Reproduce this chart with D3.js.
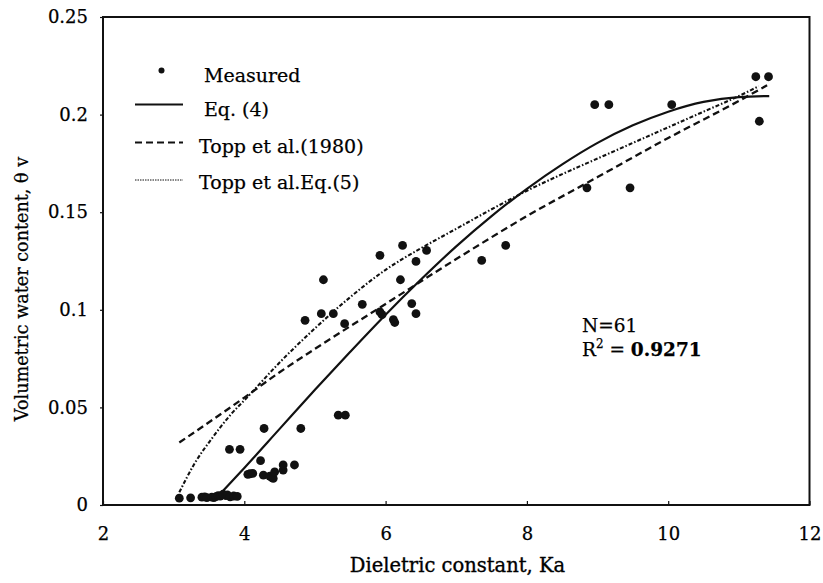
<!DOCTYPE html>
<html><head><meta charset="utf-8">
<script src="https://cdn.jsdelivr.net/npm/d3@7"></script>
<style>
html,body{margin:0;padding:0;background:#fff;}
svg text{font-family:"DejaVu Serif","Liberation Serif",serif;fill:#000;}
</style></head>
<body><svg id="c" width="823" height="583"></svg>
<script>
// Measured points [Ka, theta_v]
const measuredKa = [3.08,3.24,3.40,3.44,3.47,3.54,3.57,3.60,3.63,3.66,3.70,3.74,3.76,3.80,3.85,3.90,
  3.79,3.94,4.28,4.80,4.23,4.05,4.08,4.12,4.27,4.36,4.39,4.41,4.43,4.55,4.55,4.71,5.33,5.43,
  4.86,5.09,5.26,5.12,5.42,5.67,5.92,5.92,5.95,6.11,6.13,6.21,6.24,6.43,6.58,6.37,6.43,
  7.36,7.70,8.85,9.46,8.96,9.16,10.05,11.29,11.24,11.42];
const measuredTheta = [0.0035,0.0037,0.0040,0.0042,0.0038,0.0040,0.0038,0.0043,0.0048,0.0045,0.0055,0.0048,0.0052,0.0042,0.0046,0.0044,
  0.0285,0.0285,0.0392,0.0392,0.0227,0.0157,0.0160,0.0162,0.0153,0.0148,0.0140,0.0136,0.0170,0.0179,0.0205,0.0205,0.046,0.046,
  0.0946,0.098,0.098,0.1154,0.0929,0.1028,0.1279,0.0989,0.0975,0.0950,0.0935,0.1154,0.1330,0.1248,0.1304,0.1032,0.0980,
  0.1253,0.1330,0.1625,0.1625,0.2051,0.2051,0.2051,0.1966,0.2194,0.2194];
// Eq.(4) curve
const eq4Ka    = [3.68,4.0,4.5,5.0,5.5,6.0,6.5,7.0,7.5,8.0,8.5,9.0,9.5,10.0,10.5,11.0,11.43];
const eq4Theta = [0.0065,0.019,0.039,0.059,0.0785,0.0975,0.1155,0.1325,0.148,0.162,0.1745,0.1855,0.1945,0.2015,0.2065,0.209,0.2095];
// Topp et al.(1980)
const toppKa    = [3.08,4.0,4.5,5.0,6.0,7.0,8.0,9.0,10.0,11.0,11.4];
const toppTheta = [0.032,0.055,0.068,0.080,0.103,0.126,0.148,0.168,0.188,0.207,0.215];
// Topp et al. Eq.(5)
const topp5Ka    = [3.08,3.3,3.55,3.8,4.05,4.5,5.0,5.5,6.0,6.5,7.0,7.5,8.0,8.5,9.0,9.5,10.0,10.5,11.0,11.28];
const topp5Theta = [0.0065,0.0215,0.0345,0.046,0.0555,0.073,0.0905,0.1065,0.1205,0.1315,0.1415,0.1515,0.161,0.1695,0.1775,0.1855,0.1935,0.2015,0.2095,0.2145];
const xTicks = [2,4,6,8,10,12];
const yTicks = [0,0.05,0.1,0.15,0.2,0.25];
const yTickLabels = ["0","0.05","0.1","0.15","0.2","0.25"];
const legendLabels = ["Measured","Eq. (4)","Topp et al.(1980)","Topp et al.Eq.(5)"];

const svg = d3.select("#c");
const x = d3.scaleLinear().domain([2,12]).range([103,809.5]);
const y = d3.scaleLinear().domain([0,0.25]).range([505,17]);
const FS = 18, LFS = 19;

// axes
const gx = svg.append("g").attr("transform","translate(0,505)")
  .call(d3.axisBottom(x).tickValues(xTicks).tickSizeInner(-4).tickSizeOuter(0).tickPadding(22));
const gy = svg.append("g").attr("transform","translate(103,0)")
  .call(d3.axisLeft(y).tickValues(yTicks).tickFormat((d,i)=>yTickLabels[i]).tickSizeInner(3).tickSizeOuter(0).tickPadding(12));
[gx,gy].forEach(g=>{
  g.select(".domain").remove();
  g.selectAll("line").attr("stroke","#111").attr("stroke-width",1.2);
  g.selectAll("text").attr("font-size",FS).attr("fill","#000").attr("font-family","DejaVu Serif")
    .attr("stroke","#000").attr("stroke-width",0.25);
});
// frame
svg.append("rect").attr("x",x(2)).attr("y",y(0.25)).attr("width",x(12)-x(2)).attr("height",y(0)-y(0.25))
  .attr("fill","none").attr("stroke","#111").attr("stroke-width",2);

const line = d3.line().x(d=>x(d[0])).y(d=>y(d[1])).curve(d3.curveMonotoneX);
svg.append("path").datum(d3.zip(eq4Ka,eq4Theta)).attr("d",line)
  .attr("fill","none").attr("stroke","#111").attr("stroke-width",2.2);
svg.append("path").datum(d3.zip(toppKa,toppTheta)).attr("d",line)
  .attr("fill","none").attr("stroke","#111").attr("stroke-width",2.3).attr("stroke-dasharray","7,4");
svg.append("path").datum(d3.zip(topp5Ka,topp5Theta)).attr("d",line)
  .attr("fill","none").attr("stroke","#111").attr("stroke-width",2.1).attr("stroke-dasharray","4,2,1.5,2");

svg.append("g").selectAll("circle").data(d3.zip(measuredKa,measuredTheta)).join("circle")
  .attr("cx",d=>x(d[0])).attr("cy",d=>y(d[1])).attr("r",4.4).attr("fill","#111");

// legend
const lg = svg.append("g");
const rowY = [75,109,146,182];
lg.append("circle").attr("cx",161.5).attr("cy",70.5).attr("r",3).attr("fill","#111");
lg.append("line").attr("x1",135).attr("x2",183).attr("y1",104.5).attr("y2",104.5).attr("stroke","#111").attr("stroke-width",2);
lg.append("line").attr("x1",135).attr("x2",183).attr("y1",142.5).attr("y2",142.5).attr("stroke","#111").attr("stroke-width",2).attr("stroke-dasharray","7,4");
lg.append("line").attr("x1",135).attr("x2",183).attr("y1",180).attr("y2",180).attr("stroke","#111").attr("stroke-width",1).attr("stroke-dasharray","1.5,1");
const lgX = [204,204,199,199];
legendLabels.forEach((t,i)=>{
  lg.append("text").attr("x",lgX[i]).attr("y",rowY[i]).attr("dy","0.35em").attr("font-size",LFS)
    .attr("stroke","#000").attr("stroke-width",0.25).text(t);
});

// annotation
svg.append("text").attr("x",582).attr("y",326).attr("dy","0.35em").attr("font-size",18.5)
  .attr("stroke","#000").attr("stroke-width",0.25).text("N=61");
const r2 = svg.append("text").attr("x",582).attr("y",350).attr("dy","0.35em").attr("font-size",18.5)
  .attr("stroke","#000").attr("stroke-width",0.25);
r2.append("tspan").text("R");
r2.append("tspan").attr("font-size",12).attr("dy","-0.7em").text("2");
r2.append("tspan").attr("dy","0.45em").text(" = ");
r2.append("tspan").attr("font-weight","bold").text("0.9271");

// axis titles
svg.append("text").attr("x",457.5).attr("y",565).attr("dy","0.35em").attr("text-anchor","middle")
  .attr("font-size",19.5).attr("stroke","#000").attr("stroke-width",0.35).text("Dieletric constant, Ka");
svg.append("text").attr("transform","translate(22,289) rotate(-90)").attr("dy","0.35em").attr("text-anchor","middle")
  .attr("font-size",17.6).attr("stroke","#000").attr("stroke-width",0.25).text("Volumetric water content, θ v");
</script></body></html>
